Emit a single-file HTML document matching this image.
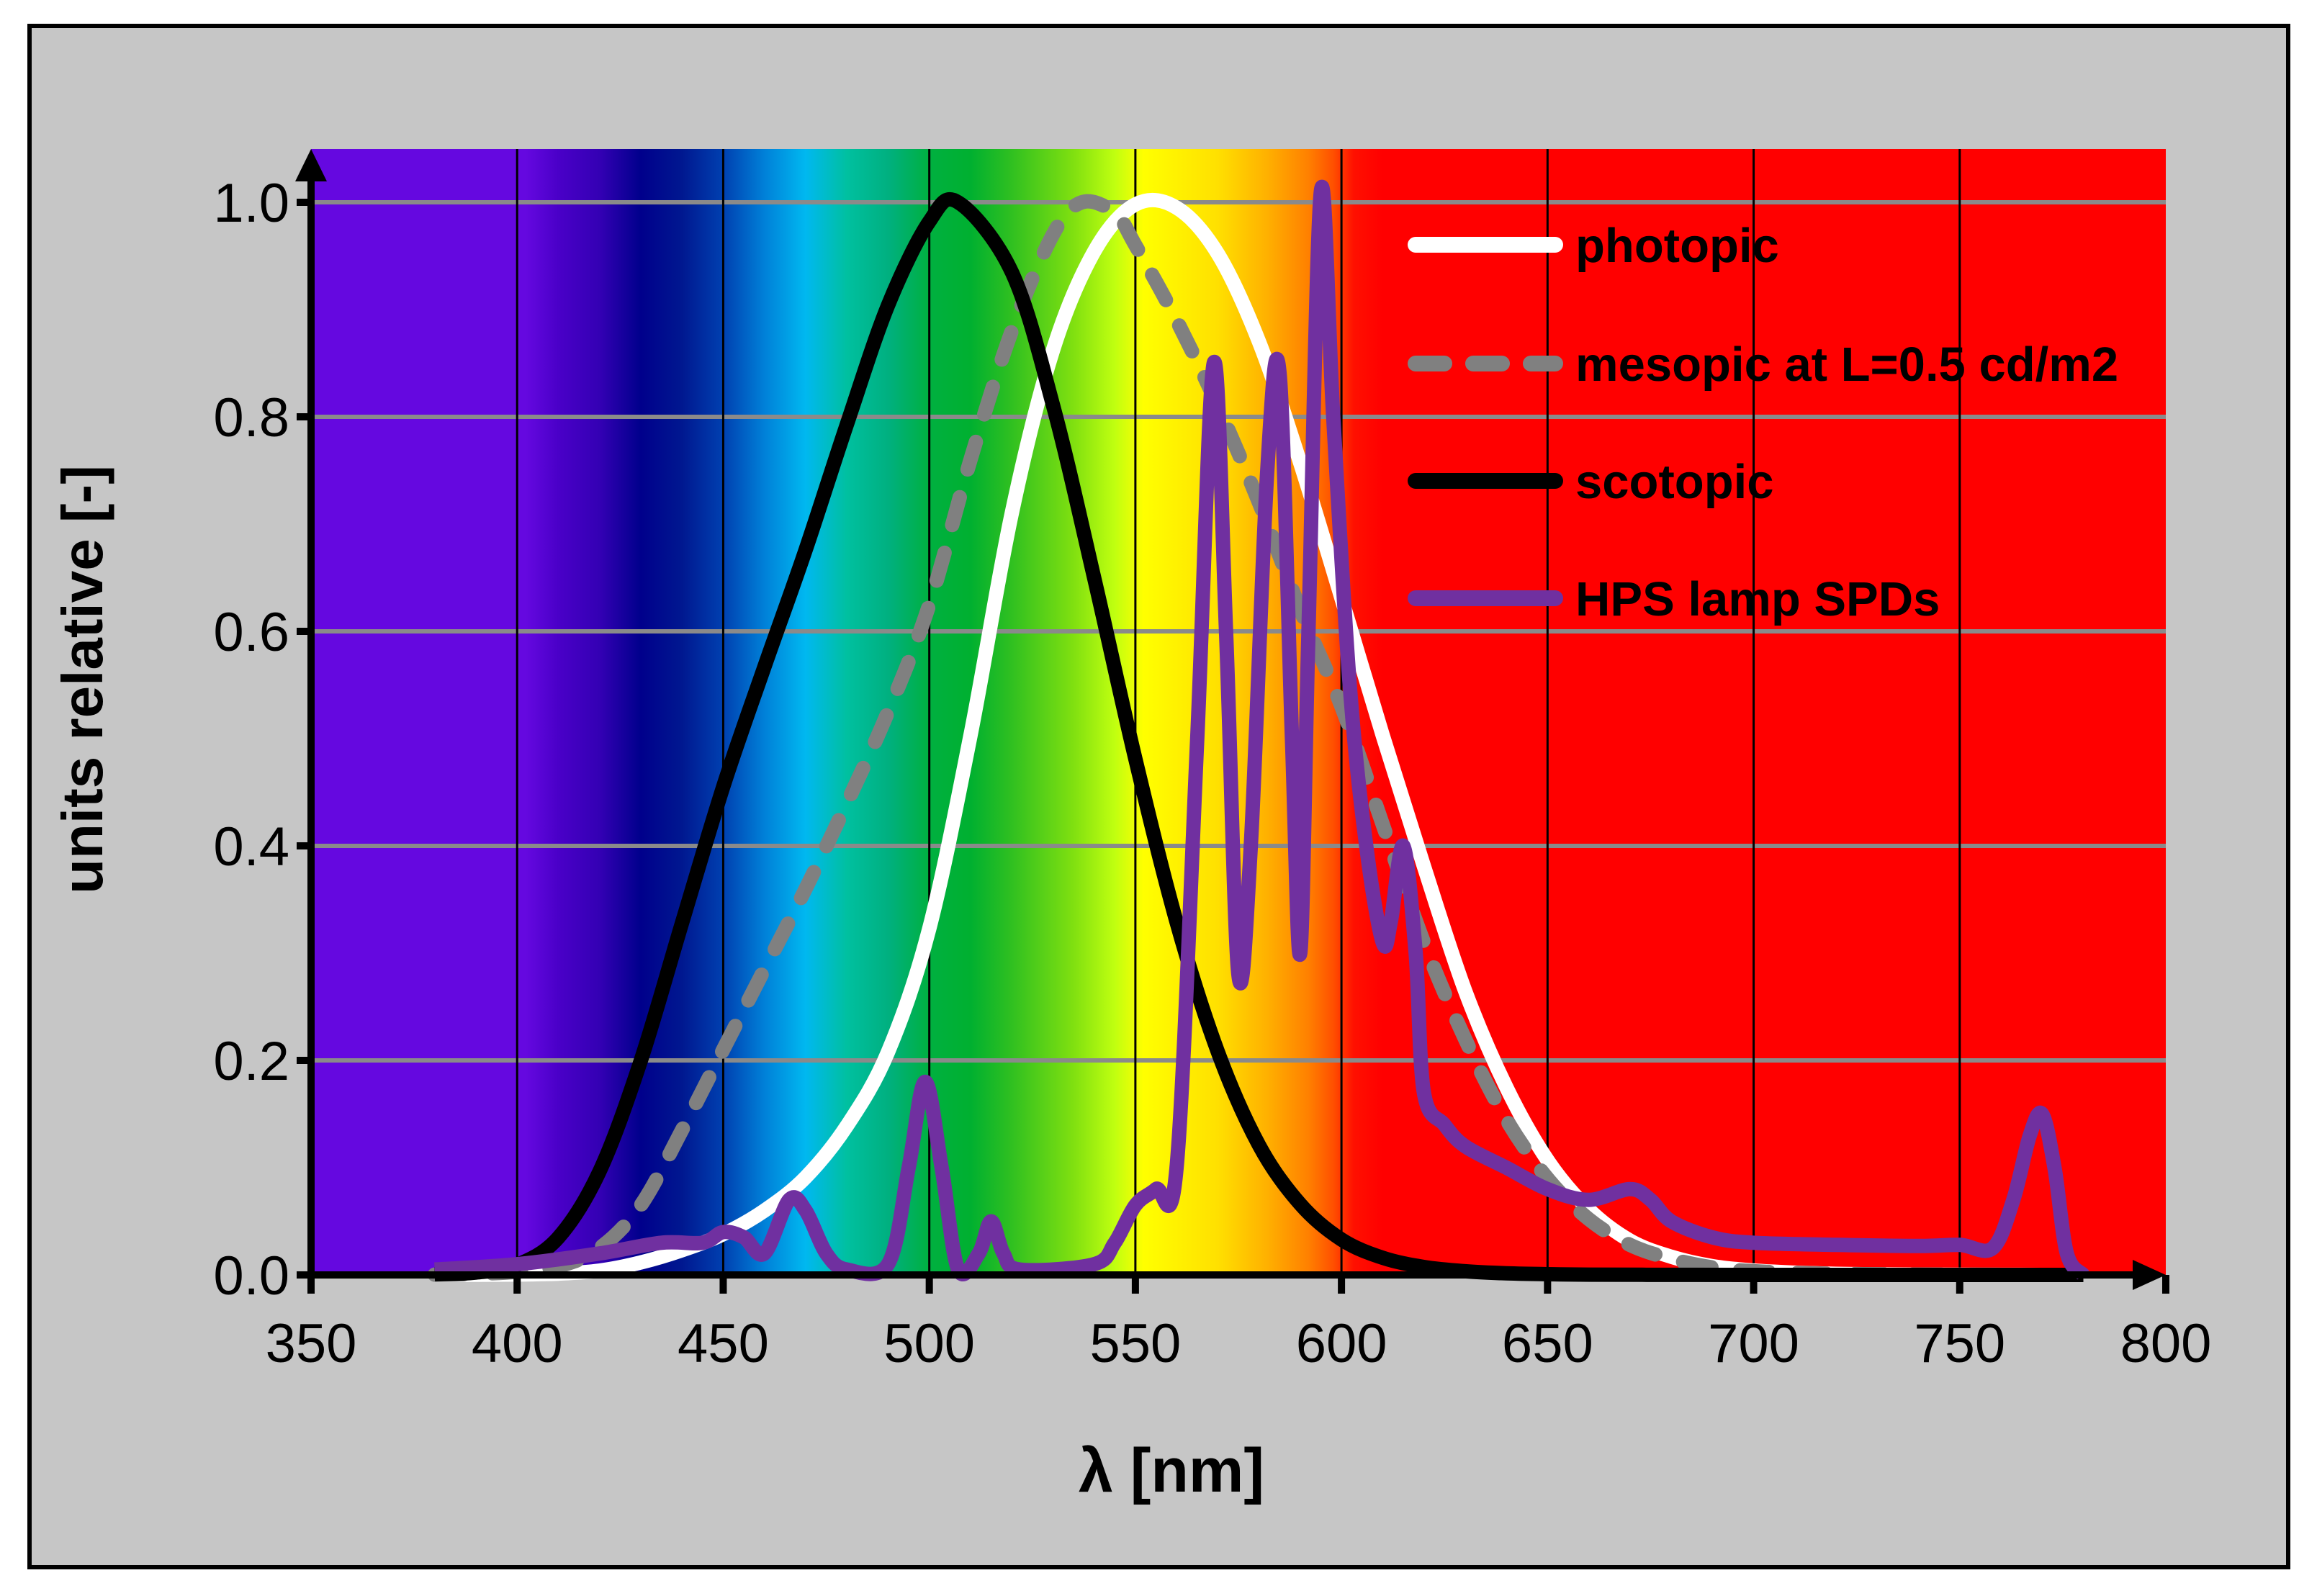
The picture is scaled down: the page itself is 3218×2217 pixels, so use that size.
<!DOCTYPE html>
<html><head><meta charset="utf-8"><style>
html,body{margin:0;padding:0;background:#fff;}
svg{display:block;}
text{font-family:"Liberation Sans",Arial,sans-serif;}
</style></head><body>
<svg id="chart" width="3218" height="2217" viewBox="0 0 3218 2217" xmlns="http://www.w3.org/2000/svg">
<rect x="41" y="36" width="3137" height="2141" fill="#c6c6c6" stroke="#000" stroke-width="6"/>
<defs><linearGradient id="spec" gradientUnits="userSpaceOnUse" x1="432" y1="0" x2="3008" y2="0"></linearGradient></defs>
<rect x="432" y="207" width="2576" height="1564" fill="url(#spec)"/>
<g id="grid"></g>
<g id="series"></g>
<g id="axes"></g>
<g id="legend"></g>
<text transform="translate(142,944) rotate(-90)" text-anchor="middle" font-size="80" font-weight="bold" fill="#000">units relative [-]</text>
<text x="1627" y="2072" text-anchor="middle" font-size="86" font-weight="bold" fill="#000">λ [nm]</text>
</svg>
<script>
const xTicks=[350,400,450,500,550,600,650,700,750,800];
const yTicks=[0,0.2,0.4,0.6,0.8,1.0];
const yTickLabels=["0.0","0.2","0.4","0.6","0.8","1.0"];
const specWl=[350,402,410,420,430,440,450,460,470,480,490,500,510,520,535,545,552,570,582,592,598,603,610,800];
const specCol=["#6508e0","#6508e0","#4a00c8","#3400b4","#00008c","#001890","#0040b0","#0080d8","#00b8f0","#00c0a0","#00b080","#00b040","#00b030","#30c020","#80e010","#c0ff10","#ffff00","#ffe000","#ffb000","#ff8000","#ff5000","#ff1000","#ff0000","#ff0000"];
const photoWl=[380,390,400,410,420,430,440,450,460,470,480,490,500,510,520,530,540,550,560,570,580,590,600,610,620,630,640,650,660,670,680,690,700,710,720,730,740,750,760,770,780];
const photoV=[0.00004,0.00012,0.0004,0.0012,0.004,0.0116,0.023,0.038,0.06,0.091,0.139,0.208,0.323,0.503,0.71,0.862,0.954,0.998,0.995,0.952,0.87,0.757,0.631,0.503,0.381,0.265,0.175,0.107,0.061,0.032,0.017,0.0082,0.0041,0.0021,0.001,0.0005,0.00025,0.00012,0.00006,0.00003,0.000015];
const scotWl=[380,390,400,410,420,430,440,450,460,470,480,490,500,507,520,530,540,550,560,570,580,590,600,610,620,630,640,650,660,680,700,740,780];
const scotV=[0.0006,0.0022,0.0093,0.0348,0.0966,0.1998,0.3281,0.455,0.567,0.676,0.793,0.904,0.982,1.0,0.935,0.811,0.65,0.481,0.329,0.208,0.121,0.066,0.033,0.016,0.0074,0.0034,0.0015,0.0007,0.0003,0.0001,0.00001,0,0];
const mesoWl=[380,390,400,410,420,430,440,450,460,470,480,490,500,510,520,530,537,545,550,560,570,580,590,600,610,620,630,640,650,660,670,680,690,700,720,750,780];
const mesoV=[0.0003,0.001,0.003,0.008,0.025,0.065,0.135,0.21,0.285,0.36,0.44,0.525,0.625,0.76,0.88,0.97,1.0,0.99,0.96,0.89,0.81,0.72,0.62,0.53,0.42,0.31,0.22,0.145,0.09,0.052,0.028,0.015,0.007,0.0035,0.001,0.0002,0];
const hpsWl=[380,400,420,435,445,450,455,460,466,470,475,480,490,495,499,503,507,512,515,518,522,540,545,550,555,560,565,569,572,575,578,582,585,588,590,592,595,598,602,606,610,612,615,618,620,625,630,640,650,660,670,675,680,690,700,720,740,750,758,763,767,770,773,776,780];
const hpsV=[0.005,0.01,0.02,0.03,0.03,0.04,0.035,0.02,0.07,0.06,0.02,0.005,0.01,0.1,0.18,0.1,0.005,0.02,0.05,0.02,0.005,0.01,0.03,0.065,0.08,0.1,0.5,0.85,0.6,0.28,0.4,0.75,0.84,0.5,0.3,0.6,1.01,0.8,0.55,0.4,0.31,0.33,0.4,0.3,0.17,0.14,0.12,0.1,0.08,0.07,0.08,0.07,0.05,0.035,0.03,0.028,0.027,0.028,0.025,0.07,0.13,0.15,0.1,0.02,0.0];
const legendLabels=["photopic","mesopic at L=0.5 cd/m2","scotopic","HPS lamp SPDs"];

const NS="http://www.w3.org/2000/svg";
const X=v=>432+(v-350)*(3008-432)/450;
const Y=v=>1771-v*1490;
function mk(tag,attrs,parent){const e=document.createElementNS(NS,tag);for(const k in attrs)e.setAttribute(k,attrs[k]);parent.appendChild(e);return e;}

const grad=document.getElementById('spec');
specWl.forEach((w,i)=>{mk('stop',{offset:((w-350)/450).toFixed(4),'stop-color':specCol[i]},grad);});

const grid=document.getElementById('grid');
yTicks.forEach(v=>{if(v===0)return;
 const l=mk('line',{x1:432,x2:3008,y1:Y(v),y2:Y(v),stroke:'#8a8a8a','stroke-width':6},grid);
 
 });
xTicks.forEach(v=>{if(v===350||v===800)return;
 const l=mk('line',{x1:X(v),x2:X(v),y1:207,y2:1771,stroke:'#000','stroke-width':3},grid);
 
 });

function pathD(wl,vals){
 const p=wl.map((w,i)=>[X(w),Y(vals[i])]);
 let d='M'+p[0][0].toFixed(1)+','+p[0][1].toFixed(1);
 for(let i=0;i<p.length-1;i++){
  const p0=p[i-1]||p[i],p1=p[i],p2=p[i+1],p3=p[i+2]||p2;
  const c1=[p1[0]+(p2[0]-p0[0])/6,p1[1]+(p2[1]-p0[1])/6];
  const c2=[p2[0]-(p3[0]-p1[0])/6,p2[1]-(p3[1]-p1[1])/6];
  d+=' C'+c1[0].toFixed(1)+','+c1[1].toFixed(1)+' '+c2[0].toFixed(1)+','+c2[1].toFixed(1)+' '+p2[0].toFixed(1)+','+p2[1].toFixed(1);
 }
 return d;}
const ser=document.getElementById('series');
const s1=mk('path',{d:pathD(photoWl,photoV),fill:'none',stroke:'#fff','stroke-width':20,'stroke-linejoin':'round'},ser);


const s2=mk('path',{d:pathD(mesoWl,mesoV),fill:'none',stroke:'#808080','stroke-width':20,'stroke-dasharray':'40 40','stroke-linecap':'round'},ser);


const s3=mk('path',{d:pathD(scotWl,scotV),fill:'none',stroke:'#000','stroke-width':20,'stroke-linejoin':'round'},ser);


const s4=mk('path',{d:pathD(hpsWl,hpsV),fill:'none',stroke:'#7030a0','stroke-width':20,'stroke-linejoin':'round'},ser);



const ax=document.getElementById('axes');
const ya=mk('line',{x1:432,x2:432,y1:240,y2:1776,stroke:'#000','stroke-width':10},ax);


const yArrow=mk('polygon',{points:'432,207 410,252 454,252',fill:'#000'},ax);


const xa=mk('line',{x1:427,x2:2970,y1:1771,y2:1771,stroke:'#000','stroke-width':10},ax);


const xArrow=mk('polygon',{points:'3008,1771 2962,1750 2962,1792',fill:'#000'},ax);


yTicks.forEach((v,i)=>{
 const t=mk('line',{x1:412,x2:432,y1:Y(v),y2:Y(v),stroke:'#000','stroke-width':10},ax);
 
 
 const tx=mk('text',{x:402,y:Y(v)+27,'text-anchor':'end','font-size':76,fill:'#000'},ax);
 tx.textContent=yTickLabels[i];
 
 });
xTicks.forEach(v=>{
 const t=mk('line',{x1:X(v),x2:X(v),y1:1771,y2:1797,stroke:'#000','stroke-width':10},ax);
 
 
 const tx=mk('text',{x:X(v),y:1892,'text-anchor':'middle','font-size':76,fill:'#000'},ax);
 tx.textContent=String(v);
 
 });

const lg=document.getElementById('legend');
const lgY=[340,505,668,831];
const lgStyles=[{stroke:'#fff'},{stroke:'#808080',dash:'40 40'},{stroke:'#000'},{stroke:'#7030a0'}];
legendLabels.forEach((lab,i)=>{
 const a={x1:1966,x2:2160,y1:lgY[i],y2:lgY[i],stroke:lgStyles[i].stroke,'stroke-width':22,'stroke-linecap':'round'};
 if(lgStyles[i].dash)a['stroke-dasharray']=lgStyles[i].dash;
 const l=mk('line',a,lg);
 
 
 const t=mk('text',{x:2188,y:lgY[i]+24,'font-size':67,'font-weight':'bold',fill:'#000'},lg);
 t.textContent=lab;
 
 });
</script>
</body></html>
